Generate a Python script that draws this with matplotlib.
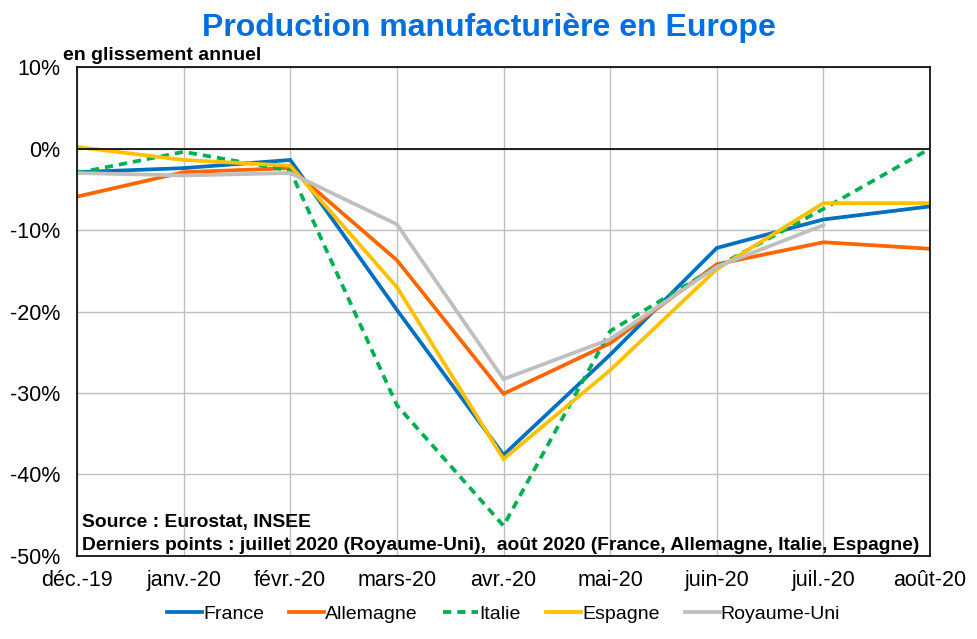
import matplotlib.pyplot as plt
import numpy as np

plt.rcParams['font.family'] = ['Liberation Sans', 'DejaVu Sans']

mois = ["déc.-19", "janv.-20", "févr.-20", "mars-20", "avr.-20",
        "mai-20", "juin-20", "juil.-20", "août-20"]

france = [-2.9, -2.4, -1.4, -19.8, -37.6, -25.3, -12.2, -8.7, -7.1]
allemagne = [-5.9, -2.9, -2.4, -13.7, -30.1, -23.9, -14.2, -11.5, -12.3]
italie = [-3.0, -0.4, -2.7, -31.5, -46.3, -22.4, -14.5, -7.4, 0.0]
espagne = [0.2, -1.4, -2.1, -17.0, -38.1, -27.2, -14.8, -6.7, -6.7]
royaume_uni = [-3.0, -3.3, -3.0, -9.3, -28.3, -23.4, -14.5, -9.4, np.nan]

fig = plt.figure(figsize=(9.78, 6.39), dpi=100)
ax = fig.add_axes([0.0787, 0.130, 0.8723, 0.765])

x = np.arange(len(mois))
lw = 2.7
ax.plot(x, france, color="#0070C0", lw=lw, label="France", solid_joinstyle="miter")
ax.plot(x, allemagne, color="#FF6600", lw=lw, label="Allemagne", solid_joinstyle="miter")
ax.plot(x, italie, color="#00B050", lw=lw, ls=(0, (2.2, 1.6)), label="Italie")
ax.plot(x, espagne, color="#FFC000", lw=lw, label="Espagne", solid_joinstyle="miter")
ax.plot(x, royaume_uni, color="#BFBFBF", lw=lw, label="Royaume-Uni", solid_joinstyle="miter")

ax.set_xlim(0, len(mois) - 1)
ax.set_ylim(-50, 10)
ax.set_xticks(x)
ax.set_xticklabels(mois)
yt = np.arange(-50, 11, 10)
ax.set_yticks(yt)
ax.set_yticklabels([f"{v}%" for v in yt])
ax.tick_params(length=0, labelsize=15.5)
ax.tick_params(axis="x", pad=10)
ax.tick_params(axis="y", pad=12)
ax.grid(True, color="#BFBFBF", lw=1)
ax.set_axisbelow(True)
ax.axhline(0, color="black", lw=1.2)
for s in ax.spines.values():
    s.set_color("black")
    s.set_linewidth(1.2)

fig.text(0.5, 0.956, "Production manufacturière en Europe", ha="center", va="center",
         fontsize=23, fontweight="bold", color="#0070E0")
fig.text(0.064, 0.913, "en glissement annuel", ha="left", va="center",
         fontsize=14, fontweight="bold")
ax.text(0.006, 0.069, "Source : Eurostat, INSEE", transform=ax.transAxes,
        fontsize=13.9, fontweight="bold", va="center")
ax.text(0.006, 0.022, "Derniers points : juillet 2020 (Royaume-Uni),  août 2020 (France, Allemagne, Italie, Espagne)",
        transform=ax.transAxes, fontsize=13.9, fontweight="bold", va="center")

fig.legend(loc="center", bbox_to_anchor=(0.515, 0.039), ncol=5, frameon=False,
           fontsize=14, handlelength=1.8, handletextpad=0.05, columnspacing=1.3)

fig.savefig("out.png", dpi=100)
